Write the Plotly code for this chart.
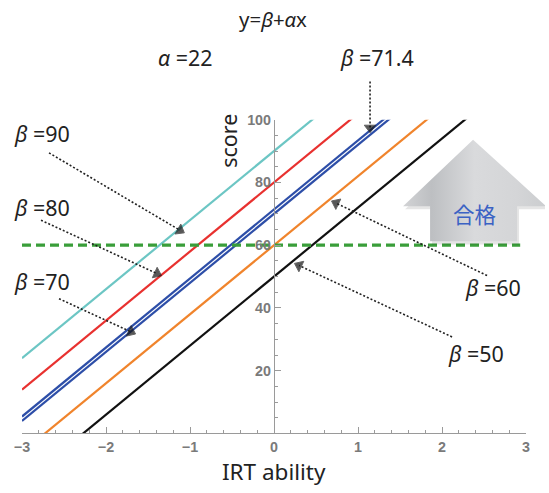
import numpy as np
import plotly.graph_objects as go

# ---- data ----
alpha = 22
betas = [90, 80, 71.4, 70, 60, 50]
line_colors = ['#6cc6c4', '#e8312f', '#2d4ea8', '#2d4ea8', '#f0842c', '#111111']
x_range = [-3, 3]
pass_score = 60
pass_x = [-3, 2.93]
x_ticks = [-3, -2, -1, 0, 1, 2, 3]
y_ticks = [20, 40, 60, 80, 100]

W, H = 549, 493
# empirical correction between page pixels and photographed pixels
A, S = 9.0, 0.978
T = lambda v: (v - A) / S          # target pixel -> page pixel
fx = lambda px: T(px) / W
fy = lambda py: 1 - T(py) / H
fs = lambda s: s / S

# plot area in target pixels
PL, PR, PT, PB = 23, 527, 120, 432

fig = go.Figure()
xs = np.array(x_range, dtype=float)
for b, c in zip(betas, line_colors):
    fig.add_trace(go.Scatter(x=xs, y=b + alpha * xs, mode='lines',
                             line=dict(color=c, width=2.2),
                             hoverinfo='skip', showlegend=False))
fig.add_trace(go.Scatter(x=pass_x, y=[pass_score] * 2, mode='lines',
                         line=dict(color='#3a9e3a', width=3.2, dash='9px,5px'),
                         hoverinfo='skip', showlegend=False))

# ---- decorative overlay (target pixel coordinates) ----
arrow_x = [474, 547, 518, 518, 431, 431, 404, 474]
arrow_y = [140, 206, 206, 241, 241, 206, 206, 140]
fig.add_trace(go.Scatter(x=[v + 2 for v in arrow_x], y=[v + 3 for v in arrow_y],
                         fill='toself', fillcolor='rgba(0,0,0,0.10)',
                         line=dict(width=0), mode='lines',
                         xaxis='x2', yaxis='y2', hoverinfo='skip', showlegend=False))
fig.add_trace(go.Scatter(x=arrow_x, y=arrow_y, fill='toself',
                         fillgradient=dict(type='horizontal',
                                           colorscale=[[0, '#d2d3d5'], [0.2, '#bdbfc2'],
                                                       [0.5, '#d9dadc'], [0.8, '#d4d5d7'],
                                                       [1, '#cbcdcf']]),
                         line=dict(width=0), mode='lines',
                         xaxis='x2', yaxis='y2', hoverinfo='skip', showlegend=False))

pointers = [
    ((50, 153), (181, 230)),
    ((42, 220), (158, 273)),
    ((60, 298), (132, 331)),
    ((371, 82), (371, 128)),
    ((488, 275), (337, 203)),
    ((453, 336), (300, 265)),
]
for (x0, y0), (x1, y1) in pointers:
    fig.add_trace(go.Scatter(x=[x0, x1], y=[y0, y1], mode='lines+markers',
                             line=dict(color='#222222', width=1.6, dash='2px,2px'),
                             marker=dict(symbol=['circle', 'triangle-up'], size=[0, 10],
                                         color='#111111', angleref='previous'),
                             xaxis='x2', yaxis='y2', hoverinfo='skip', showlegend=False))

font_txt = 'Noto Sans, Lato, sans-serif'
# (text, x-left or centre, y-centre, size, anchor)
texts = [
    ('y=<i>β</i>+<i>α</i>x', 274, 20, 20, 'center'),
    ('<i>α</i> =22', 157, 58, 21, 'left'),
    ('<i>β</i> =71.4', 339, 58, 21, 'left'),
    ('<i>β</i> =90', 13, 134, 21, 'left'),
    ('<i>β</i> =80', 13, 207, 21, 'left'),
    ('<i>β</i> =70', 13, 281, 21, 'left'),
    ('<i>β</i> =60', 464, 287, 21, 'left'),
    ('<i>β</i> =50', 447, 352, 21, 'left'),
]
annotations = []
for t, px, py, s, anc in texts:
    annotations.append(dict(text=t, x=fx(px), y=fy(py), xref='paper', yref='paper',
                            showarrow=False, xanchor=anc, yanchor='middle',
                            font=dict(family=font_txt, size=fs(s), color='#222222')))
annotations.append(dict(text='合格', x=fx(475), y=fy(213), xref='paper', yref='paper',
                        showarrow=False, xanchor='center', yanchor='middle',
                        font=dict(family='Noto Sans CJK JP', size=fs(21), color='#3b62c4')))
annotations.append(dict(text='score', x=fx(230), y=fy(141), xref='paper', yref='paper',
                        showarrow=False, textangle=-90, xanchor='center', yanchor='middle',
                        font=dict(family=font_txt, size=fs(21), color='#222222')))
annotations.append(dict(text='IRT ability', x=fx(275), y=fy(470), xref='paper', yref='paper',
                        showarrow=False, xanchor='center', yanchor='middle',
                        font=dict(family=font_txt, size=fs(22), color='#222222')))

tickfont = dict(family='Liberation Sans, Arial, sans-serif', size=fs(14), color='#7a7a7a', weight='bold')
fig.update_layout(
    width=W, height=H,
    margin=dict(l=0, r=0, t=0, b=0),
    paper_bgcolor='white', plot_bgcolor='rgba(0,0,0,0)',
    showlegend=False,
    annotations=annotations,
    xaxis=dict(domain=[fx(PL), fx(PR)], range=x_range, anchor='y',
               showgrid=False, zeroline=False, showline=True, linecolor='#9a9a9a', linewidth=1.3,
               tickvals=x_ticks, ticktext=['−3', '−2', '−1', '0', '1', '2', '3'],
               ticks='inside', ticklen=6, tickcolor='#9a9a9a', tickwidth=1.2,
               minor=dict(dtick=0.2, tick0=0, ticks='inside', ticklen=3, tickcolor='#9a9a9a', showgrid=False),
               tickfont=tickfont, fixedrange=True),
    yaxis=dict(domain=[fy(PB), fy(PT)], range=[0, 100], anchor='free',
               position=fx((PL + PR) / 2), side='left',
               showgrid=False, zeroline=False, showline=True, linecolor='#9a9a9a', linewidth=1.3,
               tickvals=y_ticks, ticks='inside', ticklen=6, tickcolor='#9a9a9a', tickwidth=1.2,
               minor=dict(dtick=5, tick0=0, ticks='inside', ticklen=3, tickcolor='#9a9a9a', showgrid=False),
               tickfont=tickfont, fixedrange=True),
    xaxis2=dict(domain=[0, 1], range=[A, A + S * W], anchor='y2', visible=False, fixedrange=True),
    yaxis2=dict(domain=[0, 1], range=[A + S * H, A], anchor='x2', visible=False, fixedrange=True),
)

fig.write_html('out.html', config={'displayModeBar': False},
               post_script="document.body.style.margin='0';")
